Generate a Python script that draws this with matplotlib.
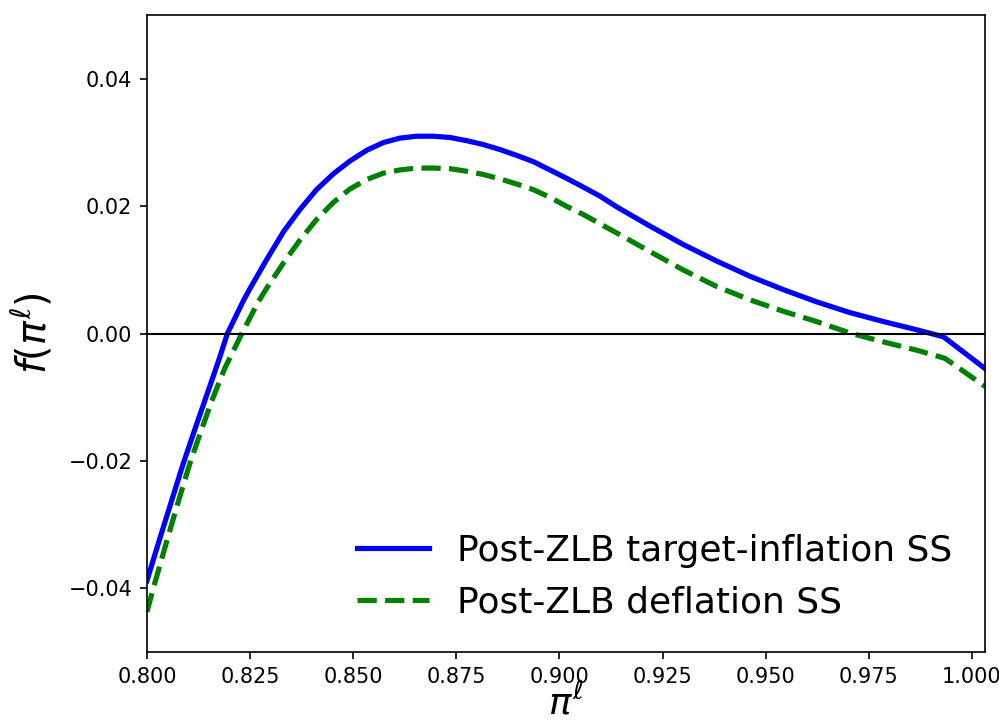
import matplotlib
matplotlib.use("Agg")
import matplotlib.pyplot as plt

# values
pi_target = [0.8000, 0.8033, 0.8060, 0.8088, 0.8119, 0.8149, 0.8175, 0.8195,
             0.8234, 0.8250, 0.8290, 0.8331, 0.8371, 0.8411, 0.8452, 0.8492,
             0.8533, 0.8573, 0.8613, 0.8654, 0.8694, 0.8735, 0.8775, 0.8815,
             0.8856, 0.8896, 0.8937, 0.8977, 0.9017, 0.9058, 0.9098, 0.9139,
             0.9219, 0.9300, 0.9381, 0.9462, 0.9543, 0.9623, 0.9704, 0.9785,
             0.9866, 0.9931, 1.0032]
f_target = [-0.0388, -0.0318, -0.0262, -0.0204, -0.0145, -0.0089, -0.0040, 0.0000,
            0.0052, 0.0071, 0.0116, 0.0160, 0.0195, 0.0226, 0.0251, 0.0271,
            0.0288, 0.0300, 0.0307, 0.0310, 0.0310, 0.0308, 0.0303, 0.0297,
            0.0289, 0.0280, 0.0270, 0.0257, 0.0244, 0.0230, 0.0216, 0.0199,
            0.0169, 0.0140, 0.0114, 0.0090, 0.0069, 0.0050, 0.0033, 0.0019,
            0.0006, -0.0005, -0.0055]

pi_defl = [0.8000, 0.8015, 0.8052, 0.8076, 0.8104, 0.8129, 0.8157, 0.8189,
           0.8230, 0.8270, 0.8290, 0.8331, 0.8371, 0.8411, 0.8452, 0.8492,
           0.8533, 0.8573, 0.8613, 0.8654, 0.8694, 0.8735, 0.8775, 0.8815,
           0.8856, 0.8896, 0.8937, 0.8977, 0.9017, 0.9058, 0.9139, 0.9219,
           0.9300, 0.9381, 0.9462, 0.9543, 0.9623, 0.9704, 0.9785, 0.9866,
           0.9935, 1.0032]
f_defl = [-0.0437, -0.0401, -0.0317, -0.0264, -0.0204, -0.0157, -0.0106, -0.0054,
          0.0000, 0.0050, 0.0071, 0.0111, 0.0147, 0.0179, 0.0206, 0.0227,
          0.0242, 0.0252, 0.0257, 0.0260, 0.0260, 0.0259, 0.0255, 0.0250,
          0.0243, 0.0235, 0.0226, 0.0214, 0.0200, 0.0187, 0.0158, 0.0129,
          0.0100, 0.0074, 0.0053, 0.0035, 0.0019, 0.0001, -0.0013, -0.0026,
          -0.0039, -0.0083]

x_ticks = [0.800, 0.825, 0.850, 0.875, 0.900, 0.925, 0.950, 0.975, 1.000]
y_ticks = [-0.04, -0.02, 0.00, 0.02, 0.04]
labels = ["Post-ZLB target-inflation SS", "Post-ZLB deflation SS"]


def main():
    fig = plt.figure(figsize=(6.66, 4.84), dpi=150)
    ax = fig.add_axes([0.1471, 0.102, 0.839, 0.877])

    ax.plot(pi_target, f_target, color="blue", lw=2.5, label=labels[0])
    ax.plot(pi_defl, f_defl, color="green", lw=2.5, ls="--", label=labels[1])
    ax.axhline(0, color="black", lw=1)

    ax.set_xlim(0.8, 1.0032)
    ax.set_ylim(-0.05, 0.05)
    ax.set_xticks(x_ticks)
    ax.set_yticks(y_ticks)
    ax.tick_params(labelsize=10)

    ax.set_xlabel(r"$\pi^\ell$", fontsize=18, labelpad=-2)
    ax.set_ylabel(r"$f(\pi^\ell)$", fontsize=19, labelpad=6)
    ax.legend(loc="lower right", fontsize=17.28, frameon=False)

    fig.savefig("out.png", dpi=150)


if __name__ == "__main__":
    main()
